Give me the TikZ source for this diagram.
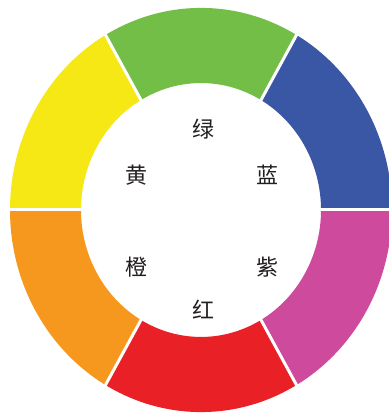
\documentclass[tikz,border=0pt]{standalone}
\usepackage{fontspec}
\newfontfamily\cjk{Noto Sans CJK SC}
\definecolor{cgreen}{RGB}{114,190,70}
\definecolor{cblue}{RGB}{58,87,166}
\definecolor{cyellow}{RGB}{246,232,20}
\definecolor{corange}{RGB}{247,152,30}
\definecolor{cred}{RGB}{233,33,39}
\definecolor{cpurple}{RGB}{206,74,156}
\definecolor{ctext}{RGB}{35,31,32}
\begin{document}
\begin{tikzpicture}[x=1pt,y=1pt,
  lbl/.style={font=\cjk\fontsize{22}{22}\selectfont, text=ctext, inner sep=0pt},
  sep/.style={white, line width=3pt}]
\useasboundingbox (0,0) rectangle (388,414);
\fill[white] (0,0) rectangle (388,414);
\begin{scope}[shift={(201,204)}, yscale=1.058]
  \def\Ro{191}\def\Ri{120}
  \foreach \a/\b/\c in {0/60/cblue,60/120/cgreen,120/180/cyellow,180/240/corange,240/300/cred,300/360/cpurple}{
    \fill[\c] (\a:\Ro) arc[start angle=\a, end angle=\b, radius=\Ro] -- (\b:\Ri) arc[start angle=\b, end angle=\a, radius=\Ri] -- cycle;
  }
  \foreach \a in {0,60,120,180,240,300}{
    \draw[sep] (\a:\Ri-2) -- (\a:\Ro+2);
  }
\end{scope}
\node[lbl] (lv) at (203,285) {绿};
\node[lbl] (la) at (267,239) {蓝};
\node[lbl] (lh) at (136,239) {黄};
\node[lbl] (lc) at (136,147) {橙};
\node[lbl] (lz) at (267,147) {紫};
\node[lbl] (lr) at (203,104) {红};
\end{tikzpicture}
\end{document}
